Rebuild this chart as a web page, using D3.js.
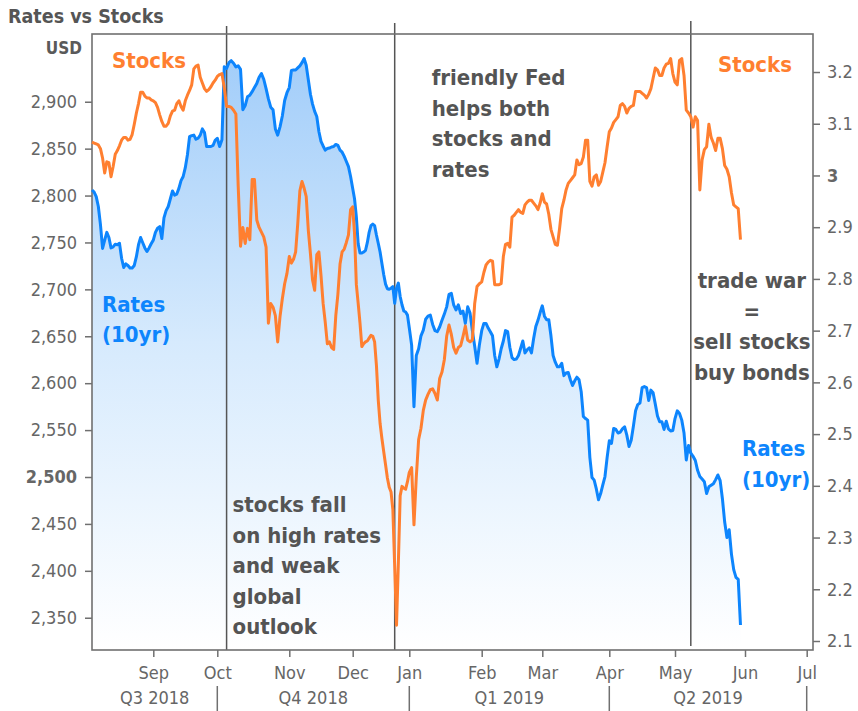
<!DOCTYPE html>
<html><head><meta charset="utf-8">
<script src="https://cdn.jsdelivr.net/npm/d3@7"></script>
<style>
html,body{margin:0;padding:0;background:#fff;}
svg{display:block;}
text{font-family:"DejaVu Sans Condensed","DejaVu Sans",sans-serif;font-stretch:condensed;}
</style></head><body>
<svg id="chart" width="858" height="711"></svg>
<script>
// ---------------- DATA ----------------
const firstDay = "2018-08-03";          // first calendar day of both daily series
// S&P 500 level (left axis, USD), one value per calendar day, Aug 3 2018 .. May 30 2019
const stocks = [
  // Aug
  2857,2856,2855,2854,2850,2840,2824,2836,2835,2820,2831,2844,2848,2853,2859,2862,2862,2859,2860,2865,2876,2888,2898,2910,2910,2906,2904,2904,2902,
  // Sep
  2901,2899,2894,2886,2879,2874,2874,2877,2885,2890,2891,2898,2901,2895,2891,2901,2907,2912,2918,2935,2938,2939,2926,2920,2914,2911,2913,2916,2920,2923,
  // Oct
  2927,2929,2930,2915,2895,2895,2894,2891,2887,2810,2746,2766,2749,2765,2753,2817,2817,2774,2766,2761,2756,2745,2664,2685,2681,2672,2644,2671,2690,2706,2717,
  // Nov
  2735,2728,2732,2740,2770,2805,2815,2808,2799,2763,2738,2710,2699,2737,2740,2715,2685,2665,2642,2644,2638,2636,2672,2695,2727,2740,2743,2750,2758,2785,
  // Dec
  2788,2760,2705,2685,2664,2639,2642,2644,2645,2648,2651,2650,2644,2619,2582,2557,2541,2527,2513,2499,2489,2484,2465,2405,2342,2408,2480,2490,2488,2487,2495,
  // Jan
  2505,2510,2449,2500,2540,2552,2571,2582,2588,2593,2594,2589,2582,2605,2612,2625,2650,2662,2652,2638,2632,2638,2640,2650,2661,2646,2644,2646,2685,2703,2706,
  // Feb
  2708,2718,2726,2729,2731,2730,2705,2705,2705,2706,2735,2748,2749,2745,2777,2779,2782,2785,2782,2781,2790,2793,2795,2795,2792,2789,2785,2792,
  // Mar
  2802,2793,2791,2780,2764,2756,2748,2747,2765,2786,2795,2806,2813,2816,2819,2822,2838,2833,2834,2841,2859,2859,2815,2810,2820,2822,2811,2815,2825,2835,2852,
  // Apr
  2868,2872,2878,2881,2884,2896,2898,2895,2888,2893,2895,2896,2911,2911,2911,2909,2907,2904,2908,2914,2925,2936,2934,2928,2928,2936,2940,2941,2946,2930,
  // May
  2921,2918,2944,2946,2928,2891,2888,2884,2873,2884,2880,2806,2838,2849,2852,2876,2862,2856,2848,2861,2861,2850,2832,2828,2820,2803,2790,2788,2786,2753
];
// 10yr Treasury yield (right axis, %), same days
const rates = [
  // Aug
  2.972,2.968,2.959,2.940,2.905,2.859,2.875,2.890,2.880,2.860,2.862,2.867,2.866,2.869,2.840,2.822,2.829,2.826,2.821,2.821,2.826,2.843,2.866,2.880,2.870,2.860,2.853,2.860,2.868,
  // Sep
  2.875,2.890,2.898,2.901,2.878,2.918,2.932,2.940,2.955,2.970,2.962,2.964,2.975,2.990,2.998,3.015,3.040,3.075,3.077,3.078,3.070,3.072,3.078,3.090,3.083,3.056,3.056,3.056,3.058,3.068,
  // Oct
  3.072,3.056,3.069,3.210,3.207,3.218,3.222,3.217,3.210,3.212,3.205,3.127,3.135,3.152,3.155,3.162,3.170,3.178,3.190,3.197,3.186,3.168,3.148,3.132,3.127,3.090,3.078,3.094,3.115,3.145,3.160,
  // Nov
  3.170,3.203,3.204,3.204,3.208,3.212,3.218,3.226,3.213,3.185,3.157,3.138,3.124,3.114,3.085,3.066,3.057,3.049,3.052,3.053,3.055,3.056,3.060,3.058,3.049,3.045,3.037,3.027,3.017,2.998,
  // Dec
  2.975,2.955,2.920,2.868,2.850,2.850,2.852,2.855,2.870,2.890,2.903,2.906,2.903,2.885,2.869,2.852,2.830,2.808,2.790,2.781,2.780,2.782,2.785,2.753,2.782,2.792,2.766,2.750,2.738,2.736,2.730,
  // Jan
  2.705,2.672,2.553,2.652,2.665,2.690,2.701,2.722,2.728,2.730,2.712,2.700,2.698,2.707,2.720,2.732,2.746,2.770,2.772,2.750,2.740,2.750,2.733,2.738,2.714,2.746,2.734,2.700,2.670,2.637,2.672,
  // Feb
  2.700,2.714,2.714,2.705,2.698,2.690,2.652,2.630,2.645,2.665,2.680,2.700,2.698,2.668,2.648,2.644,2.645,2.652,2.666,2.680,2.657,2.663,2.667,2.657,2.685,2.708,2.720,2.735,
  // Mar
  2.748,2.728,2.721,2.721,2.690,2.652,2.639,2.630,2.630,2.637,2.613,2.618,2.619,2.605,2.594,2.603,2.610,2.605,2.582,2.534,2.530,2.527,2.455,2.416,2.411,2.394,2.373,2.385,2.402,2.418,2.455,
  // Apr
  2.487,2.482,2.511,2.509,2.502,2.504,2.510,2.514,2.498,2.476,2.488,2.515,2.545,2.557,2.560,2.590,2.592,2.590,2.565,2.585,2.580,2.558,2.535,2.524,2.524,2.509,2.525,2.510,2.506,2.507,
  // May
  2.530,2.545,2.540,2.527,2.502,2.450,2.478,2.463,2.457,2.449,2.430,2.418,2.413,2.408,2.385,2.398,2.401,2.404,2.412,2.421,2.410,2.375,2.330,2.300,2.315,2.268,2.238,2.223,2.219,2.131
];
const monthStarts = ["2018-09-01","2018-10-01","2018-11-01","2018-12-01","2019-01-01","2019-02-01","2019-03-01","2019-04-01","2019-05-01","2019-06-01","2019-07-01"];
const monthLabels = ["Sep","Oct","Nov","Dec","Jan","Feb","Mar","Apr","May","Jun","Jul"];
const quarterLabels = ["Q3 2018","Q4 2018","Q1 2019","Q2 2019"];
const quarterBounds = ["2018-08-03","2018-10-01","2019-01-01","2019-04-01","2019-07-01"];
const stockTicks = [2350,2400,2450,2500,2550,2600,2650,2700,2750,2800,2850,2900];
const rateTicks = [2.1,2.2,2.3,2.4,2.5,2.6,2.7,2.8,2.9,3.0,3.1,3.2];
const stockDomain = [2315.6, 2972.2];
const rateDomain = [2.0826, 3.2735];
const eventDates = ["2018-10-05","2018-12-24","2019-05-08"];
const noteFall = ["stocks fall","on high rates","and weak","global","outlook"];
const noteFed = ["friendly Fed","helps both","stocks and","rates"];
const noteTrade = ["trade war","=","sell stocks","buy bonds"];

// ---------------- LAYOUT ----------------
const W = 858, H = 711;
const L = 92, T = 34, R = 813, B = 650;
// horizontal offsets (from the plot's left edge) of the axis anchors:
// plot start, then the first of each month Sep..Jul (axis is trading-day spaced)
const axisAnchorOffsets = [0, 61.3, 125.3, 197.3, 260.7, 317.3, 389.7, 450.3, 517.3, 583, 653, 714.7];
const ORANGE = "#ff7f30", BLUE = "#0d85fd", GREY = "#666", DARK = "#545454";

const parse = d3.timeParse("%Y-%m-%d");
const start = parse(firstDay);
const anchors = [start, ...monthStarts.map(parse)];
const x = d3.scaleTime().domain(anchors).range(axisAnchorOffsets.map(o => L + o));
const yS = d3.scaleLinear().domain(stockDomain).range([B, T]);
const yR = d3.scaleLinear().domain(rateDomain).range([B, T]);

const stockData = stocks.map((v, i) => ({date: d3.timeDay.offset(start, i), v}));
const rateData = rates.map((v, i) => ({date: d3.timeDay.offset(start, i), v}));

const svg = d3.select("#chart");
const defs = svg.append("defs");
const grad = defs.append("linearGradient").attr("id", "fillGrad")
  .attr("gradientUnits", "userSpaceOnUse").attr("x1", 0).attr("x2", 0).attr("y1", T).attr("y2", B);
grad.append("stop").attr("offset", 0).attr("stop-color", "#9ecbf9");
grad.append("stop").attr("offset", 0.5).attr("stop-color", "#d6eafd");
grad.append("stop").attr("offset", 1).attr("stop-color", "#ffffff");

// area under rates
svg.append("path").datum(rateData)
  .attr("fill", "url(#fillGrad)")
  .attr("d", d3.area().x(d => x(d.date)).y0(B).y1(d => yR(d.v)));

// event lines
const eventTops = [26, 23, 21];
const eventBottoms = [B, B, 646];
svg.selectAll("line.event").data(eventDates).join("line").attr("class", "event")
  .attr("x1", d => x(parse(d))).attr("x2", d => x(parse(d)))
  .attr("y1", (d, i) => eventTops[i]).attr("y2", (d, i) => eventBottoms[i])
  .attr("stroke", "#555").attr("stroke-width", 1.5);

// frame
svg.append("rect").attr("x", L).attr("y", T).attr("width", R - L).attr("height", B - T)
  .attr("fill", "none").attr("stroke", "#707070").attr("stroke-width", 1.6);

// lines
svg.append("path").datum(rateData).attr("fill", "none").attr("stroke", BLUE)
  .attr("stroke-width", 3).attr("stroke-linejoin", "round")
  .attr("d", d3.line().x(d => x(d.date)).y(d => yR(d.v)));
svg.append("path").datum(stockData).attr("fill", "none").attr("stroke", ORANGE)
  .attr("stroke-width", 3).attr("stroke-linejoin", "round")
  .attr("d", d3.line().x(d => x(d.date)).y(d => yS(d.v)));

// left axis
const gL = svg.append("g").attr("transform", `translate(${L},0)`)
  .call(d3.axisLeft(yS).tickValues(stockTicks).tickSize(7).tickPadding(8).tickFormat(d3.format(",")));
gL.select(".domain").remove();
gL.selectAll(".tick line").attr("stroke", "#707070").attr("stroke-width", 1.5);
gL.selectAll(".tick text").attr("fill", GREY).style("font-size", "18px").style("font-family", null)
  .attr("font-weight", d => d === 2500 ? "bold" : "normal");

// right axis
const gR = svg.append("g").attr("transform", `translate(${R},0)`)
  .call(d3.axisRight(yR).tickValues(rateTicks).tickSize(7).tickPadding(7)
    .tickFormat(d => Math.abs(d - 3) < 1e-9 ? "3" : d3.format(".1f")(d)));
gR.select(".domain").remove();
gR.selectAll(".tick line").attr("stroke", "#707070").attr("stroke-width", 1.5);
gR.selectAll(".tick text").attr("fill", GREY).style("font-size", "18px")
  .attr("font-weight", d => Math.abs(d - 3) < 1e-9 ? "bold" : "normal");

// bottom axis (months)
const gB = svg.append("g").attr("transform", `translate(0,${B})`)
  .call(d3.axisBottom(x).tickValues(monthStarts.map(parse)).tickSize(7).tickPadding(9)
    .tickFormat((d, i) => monthLabels[i]));
gB.select(".domain").remove();
gB.selectAll(".tick line").attr("stroke", "#707070").attr("stroke-width", 1.5);
gB.selectAll(".tick text").attr("fill", GREY).style("font-size", "18px");

// quarter separators and labels
const qb = quarterBounds.map(parse);
svg.selectAll("line.qsep").data(qb.slice(1)).join("line").attr("class", "qsep")
  .attr("x1", d => x(d)).attr("x2", d => x(d)).attr("y1", 686).attr("y2", H)
  .attr("stroke", "#707070").attr("stroke-width", 1.5);
svg.selectAll("text.qlab").data(quarterLabels).join("text").attr("class", "qlab")
  .attr("x", (d, i) => (x(qb[i]) + x(qb[i + 1])) / 2).attr("y", 704)
  .attr("text-anchor", "middle").attr("fill", GREY).style("font-size", "18px").text(d => d);

// titles
svg.append("text").attr("x", 8).attr("y", 23).attr("fill", "#555").attr("font-weight", "bold")
  .style("font-size", "19.5px").text("Rates vs Stocks");
svg.append("text").attr("x", 82).attr("y", 54).attr("text-anchor", "end").attr("fill", "#5a5a5a")
  .attr("font-weight", "bold").style("font-size", "17px").text("USD");

// series labels
function label(txt, xx, yy, color) {
  svg.append("text").attr("x", xx).attr("y", yy).attr("fill", color).attr("font-weight", "bold")
    .style("font-size", "22px").text(txt);
}
label("Stocks", 112, 68, ORANGE);
label("Stocks", 718, 72, ORANGE);
label("Rates", 102, 312, BLUE);
label("(10yr)", 102, 342, BLUE);
label("Rates", 742, 456, BLUE);
label("(10yr)", 742, 487, BLUE);

// annotations
function note(lines, xx, y0, anchor) {
  svg.append("g").selectAll("text").data(lines).join("text")
    .attr("x", xx).attr("y", (d, i) => y0 + i * 30.6).attr("text-anchor", anchor)
    .attr("fill", DARK).attr("font-weight", "bold").style("font-size", "22px").text(d => d);
}
const ev = eventDates.map(d => x(parse(d)));
note(noteFall, ev[0] + 6, 512, "start");
note(noteFed, ev[1] + 37, 85, "start");
note(noteTrade, (ev[2] + R) / 2, 288, "middle");
</script>
</body></html>
